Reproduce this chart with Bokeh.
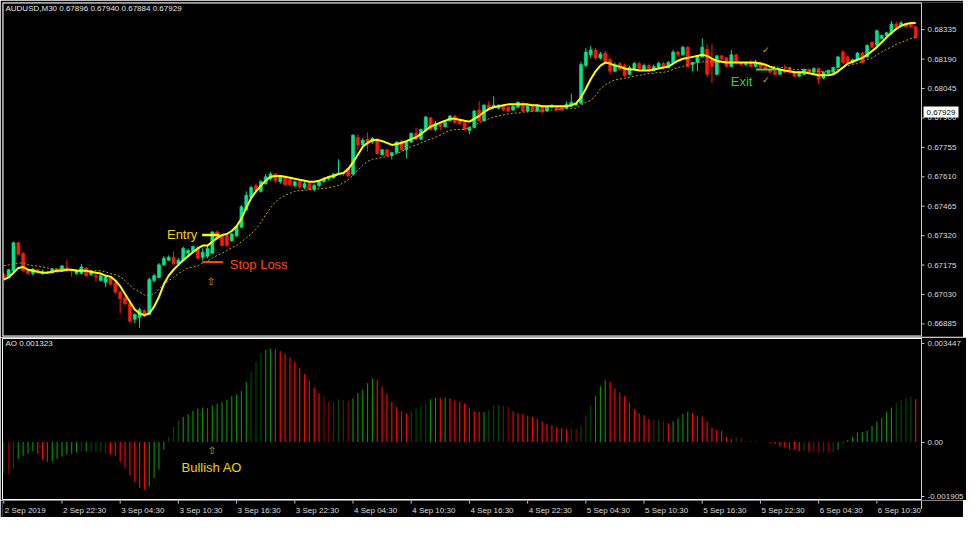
from bokeh.plotting import figure
from bokeh.layouts import column
from bokeh.models import Range1d, FixedTicker, Label, ColumnDataSource
from bokeh.core.properties import value
from bokeh.embed import file_html
from bokeh.resources import INLINE

# ---------------- data ----------------
opens = [0.67128, 0.67114, 0.67147, 0.67285, 0.67233, 0.67147, 0.67133, 0.67152, 0.67133, 0.67142,
         0.67137, 0.67156, 0.67147, 0.67161, 0.67152, 0.67133, 0.67133, 0.67161, 0.67128, 0.67123,
         0.67099, 0.67090, 0.67118, 0.67085, 0.67042, 0.67013, 0.66985, 0.66908, 0.66918, 0.66951,
         0.66932, 0.67099, 0.67114, 0.67176, 0.67199, 0.67214, 0.67180, 0.67199, 0.67233, 0.67242,
         0.67261, 0.67214, 0.67219, 0.67233, 0.67338, 0.67319, 0.67319, 0.67295, 0.67319, 0.67362,
         0.67447, 0.67509, 0.67567, 0.67538, 0.67576, 0.67600, 0.67624, 0.67586, 0.67610, 0.67595,
         0.67567, 0.67586, 0.67557, 0.67576, 0.67548, 0.67567, 0.67586, 0.67600, 0.67605, 0.67624,
         0.67629, 0.67653, 0.67624, 0.67805, 0.67767, 0.67796, 0.67781, 0.67796, 0.67719, 0.67743,
         0.67715, 0.67729, 0.67786, 0.67743, 0.67781, 0.67824, 0.67796, 0.67839, 0.67901, 0.67843,
         0.67867, 0.67858, 0.67886, 0.67910, 0.67891, 0.67877, 0.67839, 0.67853, 0.67939, 0.67886,
         0.67963, 0.67953, 0.67948, 0.67958, 0.67953, 0.67939, 0.67953, 0.67972, 0.67934, 0.67963,
         0.67934, 0.67953, 0.67934, 0.67953, 0.67953, 0.67953, 0.67948, 0.67958, 0.67963, 0.67972,
         0.68158, 0.68211, 0.68235, 0.68196, 0.68220, 0.68187, 0.68130, 0.68168, 0.68158, 0.68115,
         0.68144, 0.68168, 0.68139, 0.68158, 0.68134, 0.68149, 0.68168, 0.68149, 0.68173, 0.68225,
         0.68211, 0.68249, 0.68163, 0.68173, 0.68201, 0.68239, 0.68187, 0.68115, 0.68206, 0.68196,
         0.68153, 0.68211, 0.68173, 0.68163, 0.68173, 0.68153, 0.68173, 0.68153, 0.68139, 0.68130,
         0.68115, 0.68134, 0.68149, 0.68125, 0.68106, 0.68115, 0.68139, 0.68125, 0.68144, 0.68096,
         0.68120, 0.68125, 0.68149, 0.68225, 0.68201, 0.68173, 0.68187, 0.68220, 0.68201, 0.68273,
         0.68258, 0.68292, 0.68306, 0.68316, 0.68363, 0.68354, 0.68363, 0.68363, 0.68349]
highs = [0.67137, 0.67156, 0.67290, 0.67290, 0.67238, 0.67152, 0.67161, 0.67156, 0.67152, 0.67147,
         0.67161, 0.67161, 0.67176, 0.67199, 0.67156, 0.67152, 0.67180, 0.67166, 0.67152, 0.67133,
         0.67128, 0.67123, 0.67123, 0.67094, 0.67047, 0.67023, 0.66990, 0.66937, 0.66966, 0.66956,
         0.67114, 0.67133, 0.67185, 0.67219, 0.67223, 0.67242, 0.67209, 0.67266, 0.67257, 0.67271,
         0.67271, 0.67257, 0.67271, 0.67343, 0.67347, 0.67328, 0.67323, 0.67333, 0.67371, 0.67471,
         0.67538, 0.67567, 0.67576, 0.67595, 0.67624, 0.67633, 0.67629, 0.67619, 0.67614, 0.67605,
         0.67591, 0.67591, 0.67586, 0.67581, 0.67576, 0.67591, 0.67610, 0.67614, 0.67629, 0.67696,
         0.67633, 0.67657, 0.67820, 0.67820, 0.67800, 0.67829, 0.67805, 0.67800, 0.67748, 0.67748,
         0.67734, 0.67786, 0.67791, 0.67786, 0.67829, 0.67853, 0.67848, 0.67910, 0.67905, 0.67886,
         0.67872, 0.67882, 0.67915, 0.67915, 0.67896, 0.67882, 0.67858, 0.67939, 0.67982, 0.67967,
         0.67982, 0.68006, 0.67967, 0.67963, 0.67958, 0.67963, 0.67982, 0.67982, 0.67967, 0.67967,
         0.67967, 0.67958, 0.67958, 0.67967, 0.67958, 0.67958, 0.67982, 0.68020, 0.67977, 0.68177,
         0.68244, 0.68254, 0.68244, 0.68225, 0.68230, 0.68196, 0.68173, 0.68177, 0.68168, 0.68158,
         0.68177, 0.68177, 0.68168, 0.68168, 0.68163, 0.68177, 0.68177, 0.68182, 0.68235, 0.68230,
         0.68254, 0.68254, 0.68177, 0.68211, 0.68292, 0.68263, 0.68263, 0.68211, 0.68211, 0.68201,
         0.68235, 0.68215, 0.68177, 0.68177, 0.68187, 0.68187, 0.68177, 0.68158, 0.68144, 0.68134,
         0.68144, 0.68163, 0.68153, 0.68130, 0.68130, 0.68144, 0.68144, 0.68149, 0.68149, 0.68130,
         0.68139, 0.68153, 0.68206, 0.68235, 0.68206, 0.68192, 0.68225, 0.68225, 0.68263, 0.68277,
         0.68335, 0.68311, 0.68325, 0.68378, 0.68373, 0.68378, 0.68368, 0.68368, 0.68354]
lows = [0.67104, 0.67109, 0.67142, 0.67223, 0.67142, 0.67128, 0.67123, 0.67133, 0.67128, 0.67133,
        0.67133, 0.67137, 0.67142, 0.67142, 0.67118, 0.67128, 0.67128, 0.67118, 0.67123, 0.67094,
        0.67094, 0.67066, 0.67075, 0.67032, 0.66937, 0.66975, 0.66889, 0.66889, 0.66866, 0.66918,
        0.66928, 0.67090, 0.67109, 0.67171, 0.67195, 0.67176, 0.67176, 0.67195, 0.67223, 0.67238,
        0.67204, 0.67199, 0.67209, 0.67228, 0.67300, 0.67266, 0.67266, 0.67290, 0.67314, 0.67357,
        0.67443, 0.67500, 0.67533, 0.67533, 0.67571, 0.67591, 0.67581, 0.67576, 0.67567, 0.67567,
        0.67557, 0.67552, 0.67548, 0.67543, 0.67538, 0.67557, 0.67581, 0.67591, 0.67600, 0.67619,
        0.67614, 0.67610, 0.67614, 0.67743, 0.67758, 0.67734, 0.67772, 0.67719, 0.67715, 0.67710,
        0.67696, 0.67724, 0.67738, 0.67700, 0.67777, 0.67791, 0.67791, 0.67834, 0.67839, 0.67834,
        0.67839, 0.67853, 0.67882, 0.67872, 0.67867, 0.67839, 0.67820, 0.67848, 0.67882, 0.67882,
        0.67939, 0.67948, 0.67944, 0.67934, 0.67929, 0.67934, 0.67948, 0.67929, 0.67929, 0.67929,
        0.67929, 0.67924, 0.67929, 0.67948, 0.67934, 0.67934, 0.67944, 0.67953, 0.67958, 0.67967,
        0.68149, 0.68196, 0.68187, 0.68187, 0.68168, 0.68115, 0.68125, 0.68130, 0.68101, 0.68110,
        0.68139, 0.68139, 0.68134, 0.68130, 0.68130, 0.68144, 0.68139, 0.68144, 0.68168, 0.68201,
        0.68206, 0.68149, 0.68130, 0.68130, 0.68196, 0.68101, 0.68072, 0.68110, 0.68182, 0.68149,
        0.68149, 0.68163, 0.68153, 0.68153, 0.68149, 0.68149, 0.68144, 0.68134, 0.68120, 0.68110,
        0.68110, 0.68120, 0.68120, 0.68101, 0.68101, 0.68110, 0.68120, 0.68120, 0.68068, 0.68091,
        0.68115, 0.68120, 0.68144, 0.68168, 0.68168, 0.68168, 0.68182, 0.68168, 0.68196, 0.68244,
        0.68254, 0.68287, 0.68301, 0.68311, 0.68339, 0.68349, 0.68344, 0.68344, 0.68292]
closes = [0.67114, 0.67152, 0.67285, 0.67228, 0.67147, 0.67133, 0.67156, 0.67137, 0.67142, 0.67137,
          0.67156, 0.67142, 0.67171, 0.67147, 0.67147, 0.67147, 0.67166, 0.67123, 0.67142, 0.67118,
          0.67123, 0.67118, 0.67080, 0.67042, 0.67009, 0.66985, 0.66899, 0.66932, 0.66956, 0.66928,
          0.67104, 0.67123, 0.67176, 0.67209, 0.67214, 0.67180, 0.67199, 0.67257, 0.67247, 0.67266,
          0.67209, 0.67238, 0.67257, 0.67338, 0.67304, 0.67271, 0.67271, 0.67328, 0.67366, 0.67462,
          0.67519, 0.67557, 0.67543, 0.67586, 0.67610, 0.67624, 0.67591, 0.67610, 0.67571, 0.67571,
          0.67586, 0.67562, 0.67576, 0.67548, 0.67567, 0.67586, 0.67600, 0.67610, 0.67624, 0.67629,
          0.67624, 0.67614, 0.67815, 0.67767, 0.67791, 0.67772, 0.67800, 0.67724, 0.67743, 0.67715,
          0.67729, 0.67781, 0.67743, 0.67781, 0.67824, 0.67796, 0.67843, 0.67905, 0.67843, 0.67872,
          0.67858, 0.67877, 0.67910, 0.67877, 0.67872, 0.67843, 0.67853, 0.67934, 0.67886, 0.67963,
          0.67944, 0.67963, 0.67963, 0.67939, 0.67934, 0.67958, 0.67977, 0.67934, 0.67963, 0.67934,
          0.67958, 0.67929, 0.67953, 0.67963, 0.67939, 0.67939, 0.67967, 0.67977, 0.67972, 0.68163,
          0.68225, 0.68235, 0.68196, 0.68215, 0.68177, 0.68130, 0.68163, 0.68139, 0.68110, 0.68149,
          0.68168, 0.68144, 0.68158, 0.68139, 0.68153, 0.68168, 0.68149, 0.68173, 0.68225, 0.68211,
          0.68249, 0.68153, 0.68173, 0.68206, 0.68249, 0.68115, 0.68153, 0.68206, 0.68192, 0.68153,
          0.68211, 0.68173, 0.68163, 0.68168, 0.68153, 0.68173, 0.68149, 0.68139, 0.68125, 0.68115,
          0.68139, 0.68125, 0.68125, 0.68106, 0.68125, 0.68139, 0.68125, 0.68144, 0.68091, 0.68125,
          0.68134, 0.68149, 0.68201, 0.68173, 0.68173, 0.68187, 0.68220, 0.68173, 0.68258, 0.68249,
          0.68330, 0.68306, 0.68320, 0.68363, 0.68344, 0.68368, 0.68349, 0.68349, 0.68297]
fast_ma = [0.67104, 0.67114, 0.67137, 0.67161, 0.67166, 0.67152, 0.67147, 0.67142, 0.67137, 0.67137,
           0.67142, 0.67147, 0.67147, 0.67152, 0.67152, 0.67147, 0.67147, 0.67147, 0.67142, 0.67137,
           0.67133, 0.67123, 0.67118, 0.67099, 0.67071, 0.67032, 0.66994, 0.66956, 0.66937, 0.66928,
           0.66937, 0.66970, 0.67018, 0.67080, 0.67123, 0.67152, 0.67176, 0.67199, 0.67219, 0.67238,
           0.67257, 0.67271, 0.67271, 0.67290, 0.67309, 0.67323, 0.67328, 0.67343, 0.67366, 0.67405,
           0.67457, 0.67505, 0.67538, 0.67567, 0.67591, 0.67610, 0.67614, 0.67614, 0.67610, 0.67605,
           0.67600, 0.67595, 0.67591, 0.67586, 0.67586, 0.67591, 0.67600, 0.67610, 0.67614, 0.67624,
           0.67629, 0.67648, 0.67681, 0.67719, 0.67758, 0.67777, 0.67791, 0.67791, 0.67786, 0.67777,
           0.67767, 0.67772, 0.67777, 0.67786, 0.67796, 0.67805, 0.67820, 0.67839, 0.67858, 0.67867,
           0.67877, 0.67886, 0.67896, 0.67896, 0.67891, 0.67886, 0.67882, 0.67896, 0.67910, 0.67929,
           0.67944, 0.67953, 0.67958, 0.67963, 0.67967, 0.67967, 0.67967, 0.67967, 0.67967, 0.67963,
           0.67963, 0.67958, 0.67958, 0.67958, 0.67958, 0.67958, 0.67958, 0.67963, 0.67972, 0.68001,
           0.68044, 0.68091, 0.68130, 0.68158, 0.68173, 0.68168, 0.68158, 0.68153, 0.68144, 0.68139,
           0.68139, 0.68134, 0.68134, 0.68134, 0.68139, 0.68144, 0.68149, 0.68153, 0.68168, 0.68182,
           0.68192, 0.68196, 0.68201, 0.68206, 0.68211, 0.68206, 0.68192, 0.68182, 0.68177, 0.68173,
           0.68173, 0.68173, 0.68173, 0.68173, 0.68173, 0.68173, 0.68168, 0.68163, 0.68153, 0.68144,
           0.68139, 0.68134, 0.68130, 0.68125, 0.68125, 0.68125, 0.68120, 0.68115, 0.68110, 0.68110,
           0.68110, 0.68115, 0.68130, 0.68149, 0.68168, 0.68177, 0.68187, 0.68196, 0.68211, 0.68230,
           0.68249, 0.68273, 0.68297, 0.68320, 0.68339, 0.68354, 0.68363, 0.68368, 0.68368]
slow_ma = [0.67171, 0.67176, 0.67180, 0.67185, 0.67185, 0.67176, 0.67171, 0.67171, 0.67166, 0.67161,
           0.67156, 0.67156, 0.67156, 0.67156, 0.67152, 0.67152, 0.67152, 0.67147, 0.67147, 0.67147,
           0.67147, 0.67142, 0.67133, 0.67128, 0.67118, 0.67099, 0.67075, 0.67056, 0.67042, 0.67028,
           0.67023, 0.67032, 0.67056, 0.67080, 0.67099, 0.67114, 0.67133, 0.67147, 0.67161, 0.67166,
           0.67171, 0.67185, 0.67195, 0.67209, 0.67223, 0.67233, 0.67247, 0.67261, 0.67271, 0.67290,
           0.67309, 0.67328, 0.67352, 0.67385, 0.67424, 0.67457, 0.67486, 0.67505, 0.67519, 0.67529,
           0.67538, 0.67543, 0.67543, 0.67548, 0.67548, 0.67552, 0.67552, 0.67557, 0.67562, 0.67567,
           0.67581, 0.67595, 0.67619, 0.67643, 0.67667, 0.67686, 0.67696, 0.67700, 0.67705, 0.67710,
           0.67715, 0.67724, 0.67734, 0.67748, 0.67758, 0.67767, 0.67777, 0.67786, 0.67796, 0.67805,
           0.67815, 0.67829, 0.67839, 0.67843, 0.67843, 0.67843, 0.67853, 0.67862, 0.67877, 0.67886,
           0.67896, 0.67905, 0.67910, 0.67915, 0.67920, 0.67924, 0.67924, 0.67929, 0.67929, 0.67934,
           0.67934, 0.67934, 0.67939, 0.67939, 0.67939, 0.67944, 0.67944, 0.67948, 0.67948, 0.67963,
           0.67977, 0.67986, 0.68010, 0.68044, 0.68063, 0.68077, 0.68087, 0.68091, 0.68096, 0.68101,
           0.68106, 0.68110, 0.68115, 0.68120, 0.68120, 0.68125, 0.68125, 0.68130, 0.68139, 0.68149,
           0.68153, 0.68163, 0.68168, 0.68173, 0.68177, 0.68177, 0.68177, 0.68173, 0.68173, 0.68173,
           0.68173, 0.68173, 0.68173, 0.68173, 0.68168, 0.68168, 0.68163, 0.68158, 0.68153, 0.68153,
           0.68149, 0.68149, 0.68144, 0.68139, 0.68139, 0.68139, 0.68134, 0.68134, 0.68130, 0.68130,
           0.68130, 0.68134, 0.68139, 0.68149, 0.68158, 0.68163, 0.68168, 0.68177, 0.68187, 0.68196,
           0.68211, 0.68225, 0.68239, 0.68249, 0.68263, 0.68273, 0.68282, 0.68292, 0.68297]
ao_values = [-0.00109, -0.00112, -0.00093, -0.00059, -0.00048, -0.00041, -0.00032, -0.00041, -0.00062, -0.00069,
             -0.00066, -0.00059, -0.00051, -0.00043, -0.00041, -0.00035, -0.00034, -0.00032, -0.00034, -0.00034,
             -0.00035, -0.00041, -0.00043, -0.00048, -0.00069, -0.00088, -0.00117, -0.00139, -0.00160, -0.00166,
             -0.00155, -0.00125, -0.00096, -0.00027, 0.00019, 0.00053, 0.00075, 0.00088, 0.00098, 0.00109,
             0.00117, 0.00120, 0.00119, 0.00128, 0.00134, 0.00139, 0.00147, 0.00160, 0.00166, 0.00179,
             0.00211, 0.00246, 0.00280, 0.00310, 0.00323, 0.00326, 0.00325, 0.00318, 0.00308, 0.00297,
             0.00280, 0.00258, 0.00237, 0.00216, 0.00190, 0.00171, 0.00159, 0.00143, 0.00139, 0.00150,
             0.00146, 0.00143, 0.00153, 0.00172, 0.00182, 0.00206, 0.00221, 0.00216, 0.00194, 0.00169,
             0.00140, 0.00123, 0.00108, 0.00101, 0.00108, 0.00121, 0.00124, 0.00135, 0.00150, 0.00154,
             0.00153, 0.00156, 0.00153, 0.00146, 0.00140, 0.00134, 0.00121, 0.00108, 0.00105, 0.00105,
             0.00112, 0.00128, 0.00130, 0.00127, 0.00123, 0.00108, 0.00101, 0.00097, 0.00092, 0.00088,
             0.00082, 0.00073, 0.00063, 0.00059, 0.00053, 0.00048, 0.00045, 0.00048, 0.00047, 0.00057,
             0.00093, 0.00130, 0.00162, 0.00195, 0.00216, 0.00210, 0.00187, 0.00173, 0.00160, 0.00139,
             0.00114, 0.00101, 0.00094, 0.00080, 0.00077, 0.00078, 0.00072, 0.00066, 0.00073, 0.00083,
             0.00098, 0.00105, 0.00101, 0.00093, 0.00089, 0.00072, 0.00050, 0.00043, 0.00040, 0.00018,
             0.00011, 0.00018, 0.00014, 0.00004, 0.00003, 0.00002, 0.00001, 0.00001, -0.00003, -0.00007,
             -0.00016, -0.00019, -0.00027, -0.00027, -0.00032, -0.00031, -0.00034, -0.00035, -0.00037, -0.00036,
             -0.00037, -0.00035, -0.00027, -0.00003, 0.00007, 0.00019, 0.00034, 0.00035, 0.00040, 0.00056,
             0.00072, 0.00085, 0.00105, 0.00121, 0.00137, 0.00147, 0.00153, 0.00158, 0.00150]
# AO bar classes: G rising, g rising (dim), R falling, r falling (dim)
ao_class = list("grgGGGGRRR" "GGGGGGgGgg" "grRRRRRRRR" "GGGGgggGGG" "GGRGGGGGGG"
                "GgggGGRRRR" "RRRRRRrrrg" "rrGGGGGRRR" "RRRRggggGG" "RGRRRRRRRG"
                "gggrrRRRRR" "RRRRRRRgrg" "ggGGGRRRRR" "RRRRrgrRGG" "GGRRRRRRRR"
                "RgrrRRRGRR" "RRRRRgRrrg" "rgGGGGGGGG" "GGGGggggR")

price_ticks = [0.66885, 0.67030, 0.67175, 0.67320, 0.67465, 0.67610, 0.67755, 0.67900, 0.68045, 0.68190, 0.68335]
price_tick_labels = ["0.66885", "0.67030", "0.67175", "0.67320", "0.67465", "0.67610",
                     "0.67755", "0.67900", "0.68045", "0.68190", "0.68335"]
ao_ticks = [-0.001905, 0, 0.003447]
ao_tick_labels = ["-0.001905", "0.00", "0.003447"]
date_ticks = [0, 12, 24, 36, 48, 60, 72, 84, 96, 108, 120, 132, 144, 156, 168, 180]
date_labels = ["2 Sep 2019", "2 Sep 22:30", "3 Sep 04:30", "3 Sep 10:30", "3 Sep 16:30", "3 Sep 22:30",
               "4 Sep 04:30", "4 Sep 10:30", "4 Sep 16:30", "4 Sep 22:30", "5 Sep 04:30", "5 Sep 10:30",
               "5 Sep 16:30", "5 Sep 22:30", "6 Sep 04:30", "6 Sep 10:30"]
title_text = "AUDUSD,M30  0.67896 0.67940 0.67884 0.67929"
ao_title = "AO 0.001323"
last_price = 0.67929
last_price_label = "0.67929"

entry_price, entry_span = 0.67323, [40.9, 44.5]
stop_price, stop_span = 0.67190, [40.9, 45.2]
exit_price, exit_span = 0.68139, [155.1, 159.4]

# ---------------- style / geometry ----------------
FONT = "Liberation Sans"
SYM = "DejaVu Sans"
AX = "#c8c8c8"
TXT = "#dcdcdc"
BULL = "#00e68c"
BEAR = "#ff1a00"
AO_COL = {"G": "#009400", "g": "#004a00", "R": "#ff0000", "r": "#8a0000"}
FS = "8px"

FW, FH, RW = 919, 334, 42          # chart frame width/height, price-scale width (px)
X0, X1 = -0.26, 189.2              # bar-index span of the chart area
Y0, Y1 = 0.66823, 0.68469          # price span of the main panel
ux = (X1 - X0) / FW                # data units per pixel
uy = (Y1 - Y0) / FH
XE = X1 + RW * ux

n = len(opens)
xs = list(range(n))
src = ColumnDataSource(dict(
    x=xs, h=highs, l=lows,
    top=[max(o, c) for o, c in zip(opens, closes)],
    bot=[min(o, c) for o, c in zip(opens, closes)],
    col=[BULL if c >= o else BEAR for o, c in zip(opens, closes)]))

# ---------------- main panel (frame includes the price scale) ----------------
p = figure(frame_width=FW + RW, frame_height=FH, x_range=Range1d(X0, XE), y_range=Range1d(Y0, Y1),
           output_backend="svg", toolbar_location=None, x_axis_location=None, y_axis_location=None,
           background_fill_color="black", border_fill_color="black", outline_line_color=None,
           min_border_left=2, min_border_top=2, min_border_bottom=1, min_border_right=0)
p.grid.visible = False

p.segment(x0="x", y0="l", x1="x", y1="h", color="col", line_width=1, source=src)
p.vbar(x="x", top="top", bottom="bot", width=0.62, fill_color="col", line_color="col", line_width=0.6, source=src)
p.line(xs, slow_ma, color="#c9a100", line_width=1, line_dash="2 2")
p.line(xs, fast_ma, color="#ffff00", line_width=2)

p.line(entry_span, [entry_price, entry_price], color="#ffff00", line_width=2.5)
p.line(stop_span, [stop_price, stop_price], color="#ff4500", line_width=2)
p.line(exit_span, [exit_price, exit_price], color="#4cd84c", line_width=2)

# chart border (top, bottom, left) and price-scale line
p.segment(x0=[X0, X0, X0], y0=[Y1, Y0, Y0], x1=[X1, X1, X0], y1=[Y1, Y0, Y1], color="white", line_width=2)
p.segment(x0=[X1], y0=[Y0], x1=[X1], y1=[Y1], color=AX, line_width=1)
# price scale ticks and labels
p.segment(x0=[X1] * len(price_ticks), y0=price_ticks, x1=[X1 + 3 * ux] * len(price_ticks), y1=price_ticks,
          color=AX, line_width=1)
p.text(x=[X1] * len(price_ticks), y=price_ticks, text=price_tick_labels, x_offset=6,
       text_font=value(FONT), text_font_size=FS, text_color=TXT, text_align="left", text_baseline="middle")
# current price box
p.quad(left=[X1 + 2 * ux], right=[X1 + 37 * ux], bottom=[last_price - 5.5 * uy], top=[last_price + 5.5 * uy],
       fill_color="white", line_color=None)
p.text(x=[X1], y=[last_price], text=[last_price_label], x_offset=5, text_font=value(FONT),
       text_font_size=FS, text_color="black", text_align="left", text_baseline="middle")

def lab(fig, x, y, text, size, color, font=FONT, align="left", **kw):
    fig.add_layout(Label(x=x, y=y, text=text, text_font=font, text_font_size=size, text_color=color,
                         text_align=align, text_baseline="middle", **kw))

lab(p, 0.35, 0.68440, title_text, FS, "#e6e6e6")
lab(p, 39.9, 0.67325, "Entry", "13px", "#f2d500", align="right")
lab(p, 46.6, 0.67180, "Stop Loss", "13px", "#ff4a14")
lab(p, 42.7, 0.67094, "⇧", "10px", "#d8b400", font=SYM, align="center")
lab(p, 152.1, 0.68082, "Exit", "13px", "#3ccc3c", align="center")
lab(p, 157.1, 0.68235, "✓", "9px", "#d8b400", font=SYM, align="center")
lab(p, 157.1, 0.68087, "✓", "9px", "#d8b400", font=SYM, align="center")

# ---------------- AO panel ----------------
aosrc = ColumnDataSource(dict(x=xs, v=ao_values, col=[AO_COL[k] for k in ao_class]))
q = figure(frame_width=FW, frame_height=162, x_range=Range1d(X0, X1), y_range=Range1d(-0.00204, 0.00362),
           output_backend="svg", toolbar_location=None, y_axis_location="right", x_axis_location=None,
           background_fill_color="black", border_fill_color="black", outline_line_color="white",
           min_border_left=2, min_border_top=1, min_border_bottom=0, min_border_right=RW)
q.grid.visible = False
q.vbar(x="x", top="v", bottom=0, width=0.24, fill_color="col", line_color=None, source=aosrc)

qa = q.yaxis[0]
qa.ticker = FixedTicker(ticks=ao_ticks)
qa.major_label_overrides = {t: s for t, s in zip(ao_ticks, ao_tick_labels)}
qa.axis_line_color = AX
qa.major_tick_line_color = AX
qa.major_tick_out = 3
qa.major_tick_in = 0
qa.minor_tick_line_color = None
qa.major_label_text_color = TXT
qa.major_label_text_font = FONT
qa.major_label_text_font_size = FS
qa.major_label_standoff = 3

lab(q, 0.35, 0.00345, ao_title, FS, "#e6e6e6")
lab(q, 42.9, -0.00029, "⇧", "10px", "#d8b400", font=SYM, align="center")
lab(q, 42.9, -0.00090, "Bullish AO", "13px", "#f2d000", align="center")

# ---------------- date strip ----------------
r = figure(frame_width=FW + RW, frame_height=17, x_range=Range1d(X0, XE), y_range=Range1d(0, 1),
           output_backend="svg", toolbar_location=None, x_axis_location=None, y_axis_location=None,
           background_fill_color="black", border_fill_color="black", outline_line_color=None,
           min_border_left=2, min_border_top=0, min_border_bottom=0, min_border_right=0)
r.grid.visible = False
r.segment(x0=date_ticks, y0=[1] * len(date_ticks), x1=date_ticks, y1=[0.82] * len(date_ticks),
          color=AX, line_width=1)
r.segment(x0=[X1], y0=[0.5], x1=[X1], y1=[1], color=AX, line_width=1)
r.text(x=date_ticks, y=[0.42] * len(date_ticks), text=date_labels, text_font=value(FONT),
       text_font_size=FS, text_color=TXT, text_align="left", text_baseline="middle", x_offset=1)

layout = column(p, q, r, spacing=0)
open("out.html", "w").write(file_html(layout, INLINE))
